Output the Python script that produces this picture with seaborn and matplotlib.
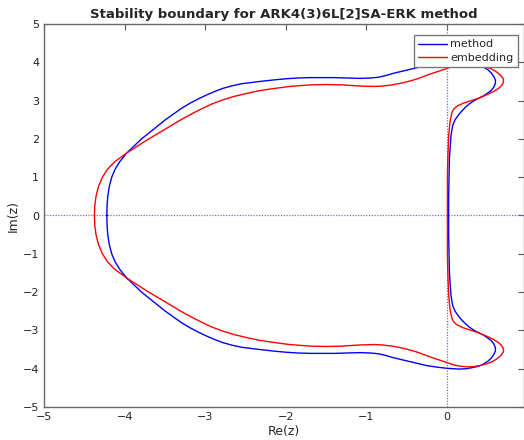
import numpy as np
import pandas as pd
import matplotlib
matplotlib.use('Agg')
import matplotlib.pyplot as plt
import seaborn as sns

# upper half of each stability boundary, mirrored below
method_re = [-4.22, -4.218, -4.209, -4.191, -4.16, -4.12, -4.062, -3.979, -3.89, -3.79, -3.70, -3.60,
             -3.50, -3.40, -3.30, -3.19, -3.08, -2.98, -2.88, -2.78, -2.66, -2.55, -2.32, -2.15,
             -2.00, -1.85, -1.70, -1.40, -1.25, -1.08, -0.95, -0.85, -0.75, -0.67, -0.55, -0.45,
             -0.35, -0.25, -0.12, 0.00, 0.08, 0.15, 0.24, 0.32, 0.40, 0.46, 0.51, 0.55,
             0.58, 0.60, 0.60, 0.58, 0.55, 0.50, 0.45, 0.39, 0.33, 0.28, 0.23, 0.18,
             0.14, 0.10, 0.07, 0.05, 0.04, 0.03, 0.025, 0.02, 0.02]
method_im = [0.00, 0.25, 0.50, 0.75, 1.00, 1.20, 1.40, 1.62, 1.80, 2.00, 2.15, 2.32,
             2.49, 2.64, 2.79, 2.93, 3.05, 3.15, 3.24, 3.32, 3.39, 3.44, 3.50, 3.54,
             3.57, 3.59, 3.60, 3.60, 3.59, 3.58, 3.59, 3.61, 3.66, 3.71, 3.77, 3.82,
             3.87, 3.92, 3.96, 3.99, 4.00, 4.01, 4.00, 3.97, 3.93, 3.87, 3.80, 3.72,
             3.63, 3.54, 3.45, 3.35, 3.27, 3.19, 3.12, 3.06, 2.99, 2.92, 2.83, 2.72,
             2.62, 2.50, 2.35, 2.10, 1.80, 1.50, 1.00, 0.50, 0.00]

embed_re = [-4.375, -4.370, -4.355, -4.325, -4.275, -4.215, -4.125, -3.982, -3.85, -3.70, -3.50,
            -3.31, -3.18, -3.05, -2.92, -2.78, -2.64, -2.50, -2.35, -2.20, -1.95, -1.70, -1.50,
            -1.30, -1.08, -0.90, -0.80, -0.68, -0.58, -0.48, -0.38, -0.29, -0.20, -0.10, 0.00,
            0.08, 0.15, 0.24, 0.32, 0.40, 0.48, 0.56, 0.62, 0.67, 0.70, 0.70, 0.68,
            0.64, 0.58, 0.49, 0.39, 0.30, 0.20, 0.12, 0.08, 0.06, 0.04, 0.03, 0.02,
            0.01, 0.005, 0.005]
embed_im = [0.00, 0.25, 0.50, 0.75, 1.00, 1.20, 1.40, 1.62, 1.80, 2.00, 2.25,
            2.49, 2.64, 2.78, 2.91, 3.02, 3.11, 3.18, 3.25, 3.30, 3.37, 3.41, 3.42,
            3.41, 3.38, 3.37, 3.38, 3.41, 3.45, 3.50, 3.56, 3.63, 3.70, 3.77, 3.84,
            3.90, 3.93, 3.95, 3.95, 3.92, 3.88, 3.82, 3.74, 3.65, 3.56, 3.48, 3.40,
            3.32, 3.24, 3.15, 3.06, 3.00, 2.93, 2.85, 2.77, 2.68, 2.49, 2.30, 2.06,
            1.50, 1.00, 0.00]

x_ticks = [-5, -4, -3, -2, -1, 0]
y_ticks = [-5, -4, -3, -2, -1, 0, 1, 2, 3, 4, 5]


def closed_curve(re, im, name):
    re = np.array(re)
    im = np.array(im)
    # conjugate symmetry: lower half is the mirror image
    full_re = np.concatenate([re, re[::-1][1:]])
    full_im = np.concatenate([im, -im[::-1][1:]])
    return pd.DataFrame({'Re': full_re, 'Im': full_im, 'curve': name})


df = pd.concat([closed_curve(method_re, method_im, 'method'),
                closed_curve(embed_re, embed_im, 'embedding')], ignore_index=True)

sns.set_style('white')
plt.rcParams['font.family'] = ['DejaVu Sans']

fig = plt.figure(figsize=(5.24, 4.40), dpi=100)
ax = fig.add_axes([44 / 524, 33 / 440, 480 / 524, 383 / 440])

# dotted axes through the origin
ax.axhline(0, color='#6a6aff', lw=0.9, ls=(0, (1, 1.2)), zorder=1)
ax.axvline(0, color='#6a6aff', lw=0.9, ls=(0, (1, 1.2)), zorder=1)

sns.lineplot(data=df, x='Re', y='Im', hue='curve', units='curve', estimator=None, sort=False,
             palette={'method': '#0000ff', 'embedding': '#ff0000'}, linewidth=1.0, ax=ax,
             zorder=2)

ax.set_xlim(-5, 0.955)
ax.set_ylim(-5, 5)
ax.set_xticks(x_ticks)
ax.set_yticks(y_ticks)
ax.tick_params(direction='in', length=4, labelsize=8, top=True, right=True,
               color='#555555', labelcolor='#222222')
for s in ax.spines.values():
    s.set_color('#666666')
    s.set_linewidth(1.0)

ax.set_xlabel('Re(z)', fontsize=9, labelpad=2)
ax.set_ylabel('Im(z)', fontsize=9, labelpad=2)
ax.set_title('Stability boundary for ARK4(3)6L[2]SA-ERK method', fontsize=9.5,
             fontweight='bold', pad=4)

leg = ax.legend(loc='upper right', bbox_to_anchor=(1 - 6 / 480, 1 - 11 / 383),
                fontsize=8, handlelength=2.6, frameon=True, fancybox=False, framealpha=1,
                borderpad=0.4, labelspacing=0.3, handletextpad=0.3, borderaxespad=0)
leg.get_frame().set_edgecolor('#777777')
leg.get_frame().set_linewidth(1.0)
leg.set_title(None)

fig.savefig('out.png', dpi=100)
